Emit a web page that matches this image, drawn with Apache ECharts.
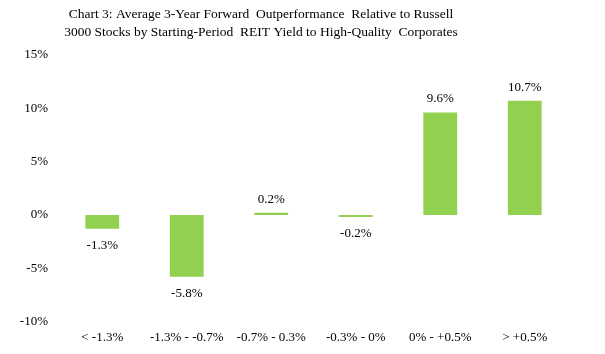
<!DOCTYPE html>
<html>
<head>
<meta charset="utf-8">
<script src="https://cdn.jsdelivr.net/npm/echarts@6/dist/echarts.min.js"></script>
<style>
  html, body { margin: 0; padding: 0; background: #fff; }
  #chart { width: 605px; height: 354px; }
</style>
</head>
<body>
<div id="chart"></div>
<script>
// datos del grafico
var categorias = ["< -1.3%", "-1.3% - -0.7%", "-0.7% - 0.3%", "-0.3% - 0%", "0% - +0.5%", "> +0.5%"];
var valores = [-1.3, -5.8, 0.2, -0.2, 9.6, 10.7];
var titulo = "Chart 3: Average 3-Year Forward  Outperformance  Relative to Russell\n3000 Stocks by Starting-Period  REIT Yield to High-Quality  Corporates";

var fuente = "Liberation Serif";

var myChart = echarts.init(document.getElementById("chart"));

// etiqueta abajo para los negativos
var seriesData = valores.map(function (v) {
  return {
    value: v,
    label: { position: v < 0 ? "bottom" : "top", distance: v < 0 ? 10 : 7 }
  };
});

var option = {
  animation: false,
  title: {
    text: titulo,
    left: 256,
    textAlign: "center",
    top: 0,
    textStyle: {
      fontFamily: fuente,
      fontSize: 13.5,
      fontWeight: "normal",
      color: "#000",
      lineHeight: 18
    }
  },
  grid: {
    left: 60,
    right: 38,
    top: 55,
    bottom: 32.5,
    containLabel: false
  },
  xAxis: {
    type: "category",
    data: categorias,
    axisLine: { show: false },
    axisTick: { show: false },
    axisLabel: {
      fontFamily: fuente,
      fontSize: 13,
      color: "#000",
      margin: 10,
      interval: 0
    }
  },
  yAxis: {
    type: "value",
    min: -10,
    max: 15,
    interval: 5,
    splitLine: { show: false },
    axisLine: { show: false },
    axisTick: { show: false },
    axisLabel: {
      fontFamily: fuente,
      fontSize: 13,
      color: "#000",
      margin: 12,
      formatter: function (v) { return v + "%"; }
    }
  },
  series: [
    {
      type: "bar",
      data: seriesData,
      barWidth: "40%",
      itemStyle: { color: "#92D050" },
      label: {
        show: true,
        fontFamily: fuente,
        fontSize: 13,
        color: "#000",
        formatter: function (p) { return p.value.toFixed(1) + "%"; }
      }
    }
  ]
};

myChart.setOption(option);
</script>
</body>
</html>
